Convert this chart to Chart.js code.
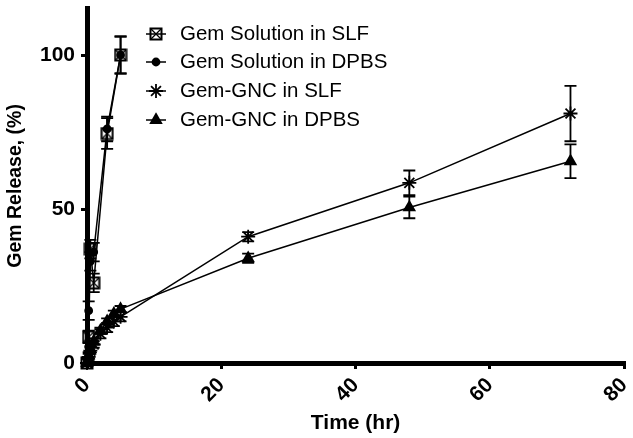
<!DOCTYPE html>
<html><head><meta charset="utf-8">
<script src="https://cdn.jsdelivr.net/npm/chart.js@4"></script>
<style>html,body{margin:0;padding:0;background:#fff}#wrap{width:633px;height:438px}</style>
</head><body><div id="wrap"><canvas id="c" width="633" height="438"></canvas></div>
<script>
// ---- data ----
const seriesNames = ["Gem Solution in SLF","Gem Solution in DPBS","Gem-GNC in SLF","Gem-GNC in DPBS"];
const solTimes = [0, 0.25, 0.5, 1, 3, 5];
const solSLF = [0, 8.5, 37, 26, 74.5, 100];
const solSLFerr = [0, 2, 3, 3, 5, 6];
const solDPBS = [0, 17, 33, 36, 76, 100];
const solDPBSerr = [0, 3, 3, 3, 4, 6];
const gncTimes = [0, 0.25, 0.5, 1, 2, 3, 4, 5, 24, 48, 72];
const gncSLF = [0, 2, 4, 6, 9.5, 11.5, 13.5, 15, 41, 58.5, 81];
const gncSLFerr = [0, 1, 1, 1, 1.5, 1.5, 1.5, 1.5, 1.5, 4, 9];
const gncDPBS = [0, 2.5, 4.5, 7, 10.5, 13.5, 16, 17.5, 34, 50.5, 65.5];
const gncDPBSerr = [0, 1, 1, 1, 1, 1, 1, 1, 1.5, 3.5, 5.5];
const xTicks = [0, 20, 40, 60, 80];
const yTicks = [0, 50, 100];

function pts(t, v){ return t.map((x,i)=>({x:x,y:v[i]})); }

// boxed-X marker
function boxX(size){
  const c=document.createElement('canvas'); c.width=size; c.height=size;
  const g=c.getContext('2d'); g.strokeStyle='#000'; g.lineWidth=2;
  g.strokeRect(1.5,1.5,size-3,size-3);
  g.lineWidth=1.3; g.beginPath(); g.moveTo(2,2); g.lineTo(size-2,size-2); g.moveTo(size-2,2); g.lineTo(2,size-2); g.stroke();
  return c;
}
const boxImg = boxX(14);

const errs = [solSLFerr, solDPBSerr, gncSLFerr, gncDPBSerr];
const styles = [
  {pointStyle: boxImg, radius: 7, bg:'#fff'},
  {pointStyle: 'circle', radius: 3.5, bg:'#000'},
  {pointStyle: 'star', radius: 7, bg:'#000'},
  {pointStyle: 'triangle', radius: 6, bg:'#000'}
];
const dataArr = [pts(solTimes,solSLF), pts(solTimes,solDPBS), pts(gncTimes,gncSLF), pts(gncTimes,gncDPBS)];

const datasets = dataArr.map((d,i)=>({
  label: seriesNames[i], data: d, borderColor:'#000', borderWidth:1.5,
  pointStyle: styles[i].pointStyle, pointRadius: styles[i].radius,
  pointBackgroundColor: styles[i].bg, pointBorderColor:'#000', pointBorderWidth:1.8,
  clip:false, tension:0
}));

const errorBars = {
  id:'errorBars',
  beforeDatasetsDraw(chart){
    const ctx=chart.ctx, xs=chart.scales.x, ys=chart.scales.y;
    ctx.save(); ctx.strokeStyle='#000'; ctx.lineWidth=1.8;
    dataArr.forEach((d,i)=>{
      d.forEach((p,j)=>{
        const e=errs[i][j]; if(!e) return;
        const x=xs.getPixelForValue(p.x), y1=ys.getPixelForValue(p.y+e), y2=ys.getPixelForValue(p.y-e);
        ctx.beginPath(); ctx.moveTo(x,y1); ctx.lineTo(x,y2);
        ctx.moveTo(x-6,y1); ctx.lineTo(x+6,y1); ctx.moveTo(x-6,y2); ctx.lineTo(x+6,y2); ctx.stroke();
      });
    });
    ctx.restore();
  }
};

const legendPlugin = {
  id:'customLegend',
  afterDraw(chart){
    const ctx=chart.ctx; ctx.save();
    const rows=[34,62,91,120];
    seriesNames.forEach((n,i)=>{
      const y=rows[i], x=156;
      ctx.strokeStyle='#000'; ctx.lineWidth=1.5;
      ctx.beginPath(); ctx.moveTo(x-10,y); ctx.lineTo(x+10,y); ctx.stroke();
      ctx.fillStyle=styles[i].bg; ctx.strokeStyle='#000'; ctx.lineWidth=1.8;
      Chart.helpers.drawPoint(ctx,{pointStyle:styles[i].pointStyle, radius:styles[i].radius, borderWidth:1.8, rotation:0}, x, y);
      ctx.fillStyle='#000'; ctx.font='20.5px "Liberation Sans", Arial, sans-serif';
      ctx.textBaseline='middle'; ctx.textAlign='left';
      ctx.fillText(n, 180, y);
    });
    ctx.restore();
  }
};

new Chart(document.getElementById('c'), {
  type:'line',
  data:{datasets},
  plugins:[errorBars, legendPlugin],
  options:{
    responsive:false, animation:false, devicePixelRatio:1,
    layout:{padding:{top:5,right:6,left:0,bottom:0}},
    plugins:{legend:{display:false}, tooltip:{enabled:false}},
    elements:{point:{backgroundColor:'#000'}},
    scales:{
      x:{type:'linear', min:0, max:80,
        afterBuildTicks(s){ s.ticks = xTicks.map(v=>({value:v})); },
        afterFit(s){ s.height=75; s.paddingLeft=0; s.paddingRight=0; },
        grid:{drawOnChartArea:false, drawTicks:true, tickLength:6, lineWidth:3, color:'#000'},
        border:{display:true, width:5, color:'#000'},
        ticks:{color:'#000', minRotation:45, maxRotation:45, padding:4, font:{family:'"Liberation Sans", Arial', size:21, weight:'bold'}},
        title:{display:true, text:'Time (hr)', color:'#000', padding:{top:0,bottom:2}, font:{family:'"Liberation Sans", Arial', size:21, weight:'bold'}}
      },
      y:{type:'linear', min:0, max:115,
        afterBuildTicks(s){ s.ticks = yTicks.map(v=>({value:v})); },
        afterFit(s){ s.width=87; s.paddingTop=0; s.paddingBottom=0; },
        grid:{drawOnChartArea:false, drawTicks:true, tickLength:6, lineWidth:3, color:'#000'},
        border:{display:true, width:5, color:'#000'},
        ticks:{color:'#000', padding:6, font:{family:'"Liberation Sans", Arial', size:21, weight:'bold'}},
        title:{display:true, text:'Gem Release, (%)', color:'#000', padding:{top:4,bottom:0}, font:{family:'"Liberation Sans", Arial', size:19.5, weight:'bold'}}
      }
    }
  }
});
</script></body></html>
